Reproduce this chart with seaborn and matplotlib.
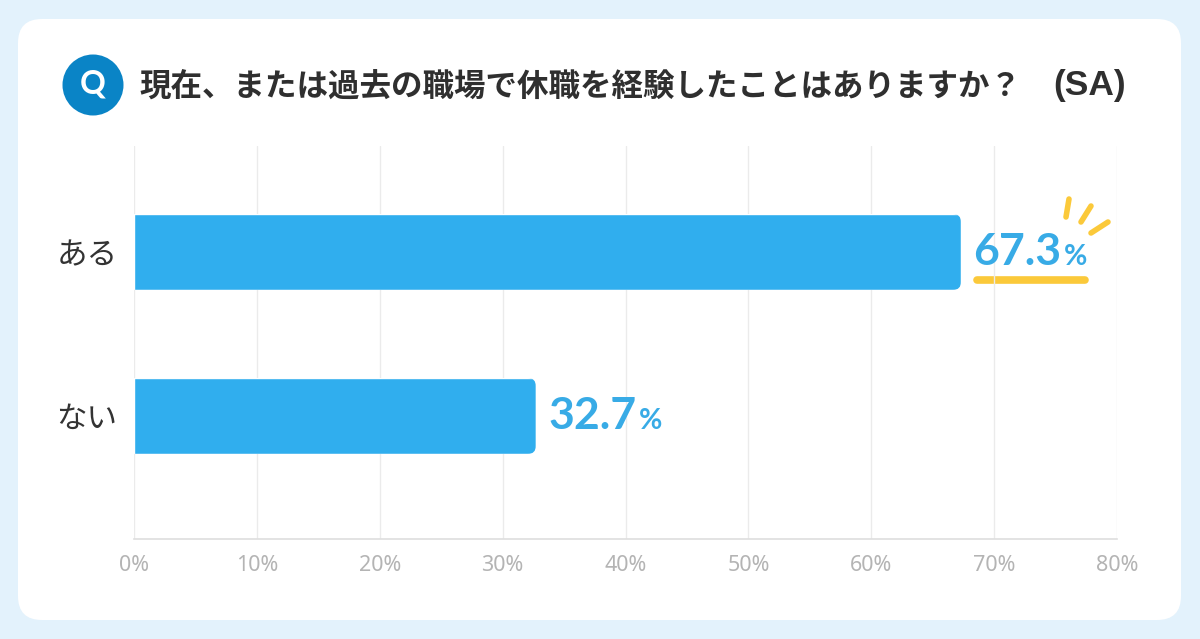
import pandas as pd
import seaborn as sns
import matplotlib.pyplot as plt
from matplotlib.patches import FancyBboxPatch, Circle
from matplotlib.transforms import IdentityTransform

categories = ["ある", "ない"]
values = [67.3, 32.7]
xticks = [0, 10, 20, 30, 40, 50, 60, 70, 80]
title = "現在、または過去の職場で休職を経験したことはありますか\uff1f"
title_suffix = "(SA)"

BLUE = "#30AEEE"
LABEL_BLUE = "#38ABE6"
YELLOW = "#FBC93A"
JP = ["Noto Sans CJK JP", "DejaVu Sans"]

df = pd.DataFrame({"回答": categories, "割合": values})

sns.set_theme(style="white")
plt.rcParams["font.family"] = JP

fig = plt.figure(figsize=(12, 6.39), dpi=100, facecolor="#E3F2FC")

# background card and decorations are laid out in pixels
bg = fig.add_axes([0, 0, 1, 1], zorder=0)
bg.set_xlim(0, 1200)
bg.set_ylim(639, 0)
bg.axis("off")
bg.add_patch(FancyBboxPatch((18, 19), 1163, 601, boxstyle="round,pad=0,rounding_size=24",
                            fc="white", ec="none"))

ax = fig.add_axes([134 / 1200, 100 / 639, 983 / 1200, 393 / 639], zorder=1)
ax.patch.set_alpha(0)
sns.barplot(data=df, x="割合", y="回答", color=BLUE, saturation=1, width=0.463, ax=ax, zorder=3)
ax.set_xlim(0, 80)
ax.set_ylim(1.75, -0.646)
ax.set_xticks(xticks)
ax.set_xticklabels([f"{t}%" for t in xticks], fontsize=15.5, color="#B4B4B4", family="Noto Sans")
ax.set_xlabel("")
ax.set_ylabel("")
ax.tick_params(axis="x", length=0, pad=11.5)
ax.tick_params(axis="y", length=0, pad=12, labelsize=22, labelcolor="#333333")
ax.grid(axis="x", color="#EBEBEB", linewidth=1)
ax.set_axisbelow(True)
sns.despine(ax=ax, top=True, right=True, left=True)
ax.spines["bottom"].set_color("#DEDEDE")
ax.spines["bottom"].set_linewidth(1.2)

# round the bar ends
for bar in ax.patches:
    ext = bar.get_window_extent()
    clip = FancyBboxPatch((ext.x0 - 20, ext.y0), ext.width + 20, ext.height,
                          boxstyle="round,pad=0,rounding_size=8", transform=IdentityTransform())
    bar.set_clip_path(clip)

for i, v in enumerate(values):
    num = ax.annotate(f"{v}", xy=(v, i), xytext=(9, -9.4), textcoords="offset points",
                      ha="left", va="baseline", fontsize=32, fontweight="bold",
                      color=LABEL_BLUE, family="Lato", zorder=5)
    ax.annotate("%", xy=(1, i), xycoords=(num, "data"), xytext=(2, -9.4),
                textcoords="offset points", ha="left", va="baseline", fontsize=20.5,
                fontweight="bold", color=LABEL_BLUE, family="Lato", zorder=5)

# question badge and title
bg.add_patch(Circle((93, 85), 30.5, fc="#0A84C6", ec="none"))
bg.text(93, 84, "Q", ha="center", va="center", fontsize=23, fontweight="bold", color="white",
        family="Lato")
bg.text(139, 87, title, ha="left", va="center", fontsize=22.7, fontweight="bold", color="#2F2F2F")
bg.text(1126, 86, title_suffix, ha="right", va="center", fontsize=25.5, fontweight="bold",
        color="#2F2F2F", family="Liberation Sans")

# highlight under and above the top value
bg.plot([977, 1085], [280, 280], color=YELLOW, lw=5.5, solid_capstyle="round")
bg.plot([1069, 1066], [199, 217], color=YELLOW, lw=4, solid_capstyle="round")
bg.plot([1091, 1081], [206, 222], color=YELLOW, lw=4, solid_capstyle="round")
bg.plot([1108, 1091], [222, 233], color=YELLOW, lw=4, solid_capstyle="round")

fig.savefig("out.png", dpi=100, facecolor=fig.get_facecolor())
